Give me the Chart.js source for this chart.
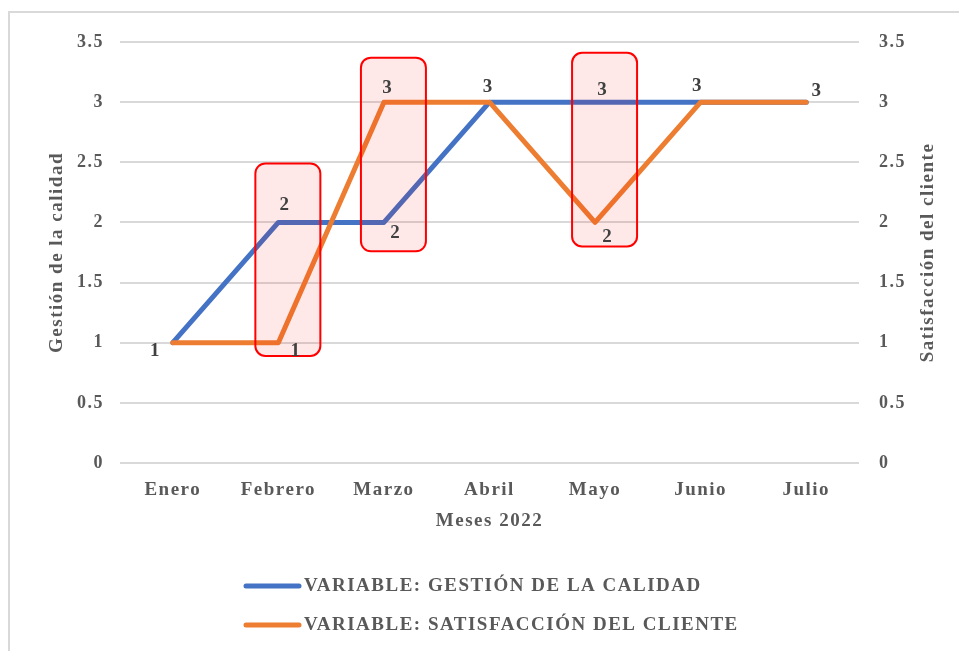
<!DOCTYPE html>
<html>
<head>
<meta charset="utf-8">
<script src="https://cdn.jsdelivr.net/npm/chart.js@4.4.0/dist/chart.umd.min.js"></script>
<style>
  html, body { margin: 0; padding: 0; background: #ffffff; }
  #wrap { position: relative; width: 959px; height: 651px; }
</style>
</head>
<body>
<div id="wrap"><canvas id="c" width="959" height="651"></canvas></div>
<script>
// Monthly scores, 2022
const months = ['Enero', 'Febrero', 'Marzo', 'Abril', 'Mayo', 'Junio', 'Julio'];
const gestionCalidad = [1, 2, 2, 3, 3, 3, 3];
const satisfaccionCliente = [1, 1, 3, 3, 2, 3, 3];
const seriesNames = ['VARIABLE: GESTIÓN DE LA CALIDAD', 'VARIABLE: SATISFACCIÓN DEL CLIENTE'];
const axisTitles = { x: 'Meses 2022', left: 'Gestión de la calidad', right: 'Satisfacción del cliente' };
// Months framed with a red box, and the value span each box covers
const highlightMonths = ['Febrero', 'Marzo', 'Mayo'];
const highlightFrom = [0.89, 1.76, 1.80];
const highlightTo = [2.49, 3.37, 3.41];

const SERIF = "'Liberation Serif', 'Times New Roman', serif";
const TEXT = '#595959';

// Where each value label sits relative to its point (null = not shown)
const labelOffsets = [
  [null, [6, -17], [11, 11], [-2, -15], [7, -12], [-4, -16], null],
  [[-18, 8], [17, 8], [3, -14], null, [12, 15], null, [10, -11]]
];

const spacingPlugin = {
  id: 'spacing',
  beforeUpdate(chart) { chart.ctx.letterSpacing = '1.5px'; },
  beforeLayout(chart) { chart.ctx.letterSpacing = '1.5px'; },
  beforeDraw(chart) { chart.ctx.letterSpacing = '1.5px'; }
};

const framePlugin = {
  id: 'frame',
  beforeDraw(chart) {
    const ctx = chart.ctx;
    ctx.save();
    ctx.strokeStyle = '#d9d9d9';
    ctx.lineWidth = 2;
    ctx.strokeRect(9, 12, 1100, 1100);
    ctx.restore();
  }
};

const highlightPlugin = {
  id: 'highlights',
  afterDatasetsDraw(chart) {
    const ctx = chart.ctx;
    const xs = chart.scales.x, ys = chart.scales.y;
    ctx.save();
    highlightMonths.forEach((m, i) => {
      const cx = xs.getPixelForValue(months.indexOf(m));
      const top = ys.getPixelForValue(highlightTo[i]);
      const bottom = ys.getPixelForValue(highlightFrom[i]);
      const left = cx - 23, right = cx + 42;
      ctx.beginPath();
      ctx.roundRect(left, top, right - left, bottom - top, 10);
      ctx.fillStyle = 'rgba(255, 0, 0, 0.09)';
      ctx.fill();
      ctx.lineWidth = 2;
      ctx.strokeStyle = '#ff0000';
      ctx.stroke();
    });
    ctx.restore();
  }
};

const labelPlugin = {
  id: 'valueLabels',
  afterDraw(chart) {
    const ctx = chart.ctx;
    ctx.save();
    ctx.letterSpacing = '0px';
    ctx.font = 'bold 19px ' + SERIF;
    ctx.fillStyle = '#404040';
    ctx.textAlign = 'center';
    ctx.textBaseline = 'middle';
    chart.data.datasets.forEach((ds, di) => {
      const meta = chart.getDatasetMeta(di);
      meta.data.forEach((pt, i) => {
        const off = labelOffsets[di][i];
        if (!off) return;
        ctx.fillText(String(ds.data[i]), pt.x + off[0], pt.y + off[1]);
      });
    });
    ctx.restore();
  }
};

const extrasPlugin = {
  id: 'extras',
  afterDraw(chart) {
    const ctx = chart.ctx;
    const ya = chart.chartArea;
    ctx.save();
    ctx.letterSpacing = '1.5px';
    // right axis title, reading bottom to top
    ctx.font = 'bold 19px ' + SERIF;
    ctx.fillStyle = TEXT;
    ctx.textAlign = 'center';
    ctx.textBaseline = 'middle';
    ctx.translate(928, (ya.top + ya.bottom) / 2);
    ctx.rotate(-Math.PI / 2);
    ctx.fillText(axisTitles.right, 0, 0);
    ctx.restore();

    // legend, one series per row
    ctx.save();
    ctx.letterSpacing = '1.5px';
    ctx.font = 'bold 19px ' + SERIF;
    ctx.textBaseline = 'middle';
    ctx.textAlign = 'left';
    chart.data.datasets.forEach((ds, i) => {
      const y = 586 + i * 39;
      ctx.strokeStyle = ds.borderColor;
      ctx.lineWidth = 5;
      ctx.lineCap = 'round';
      ctx.beginPath();
      ctx.moveTo(246, y);
      ctx.lineTo(299, y);
      ctx.stroke();
      ctx.fillStyle = TEXT;
      ctx.fillText(ds.label, 304, y);
    });
    ctx.restore();
  }
};

new Chart(document.getElementById('c'), {
  type: 'line',
  data: {
    labels: months,
    datasets: [
      {
        label: seriesNames[0],
        data: gestionCalidad,
        yAxisID: 'y',
        borderColor: '#4472c4',
        backgroundColor: '#4472c4',
        borderWidth: 5,
        pointRadius: 0,
        borderCapStyle: 'round',
        borderJoinStyle: 'round',
        tension: 0,
        order: 1
      },
      {
        label: seriesNames[1],
        data: satisfaccionCliente,
        yAxisID: 'y2',
        borderColor: '#ed7d31',
        backgroundColor: '#ed7d31',
        borderWidth: 5,
        pointRadius: 0,
        borderCapStyle: 'round',
        borderJoinStyle: 'round',
        tension: 0,
        order: 0
      }
    ]
  },
  options: {
    responsive: false,
    animation: false,
    events: [],
    layout: { padding: { top: 42, bottom: 111, left: 0, right: 0 } },
    plugins: {
      legend: { display: false },
      tooltip: { enabled: false },
      title: { display: false }
    },
    scales: {
      x: {
        offset: true,
        grid: { display: false, drawTicks: false },
        border: { display: false },
        ticks: { color: TEXT, padding: 16, font: { family: SERIF, size: 19, weight: 'bold' } },
        title: { display: true, text: axisTitles.x, color: TEXT, padding: { top: 0, bottom: 8 }, font: { family: SERIF, size: 19, weight: 'bold' } },
        afterFit(s) { s.height = 77; }
      },
      y: {
        position: 'left',
        min: 0, max: 3.5,
        grid: { color: '#d9d9d9', lineWidth: 2, drawTicks: false },
        border: { display: false },
        ticks: { stepSize: 0.5, color: TEXT, padding: 16, font: { family: SERIF, size: 18, weight: 'bold' }, callback: v => String(v) },
        title: { display: true, text: axisTitles.left, color: TEXT, padding: { top: 46, bottom: 0 }, font: { family: SERIF, size: 19, weight: 'bold' } },
        afterFit(s) { s.width = 120; }
      },
      y2: {
        position: 'right',
        min: 0, max: 3.5,
        grid: { display: false, drawTicks: false },
        border: { display: false },
        ticks: { stepSize: 0.5, color: TEXT, padding: 20, font: { family: SERIF, size: 18, weight: 'bold' }, callback: v => String(v) },
        afterFit(s) { s.width = 100; }
      }
    }
  },
  plugins: [spacingPlugin, framePlugin, highlightPlugin, labelPlugin, extrasPlugin]
});
</script>
</body>
</html>
